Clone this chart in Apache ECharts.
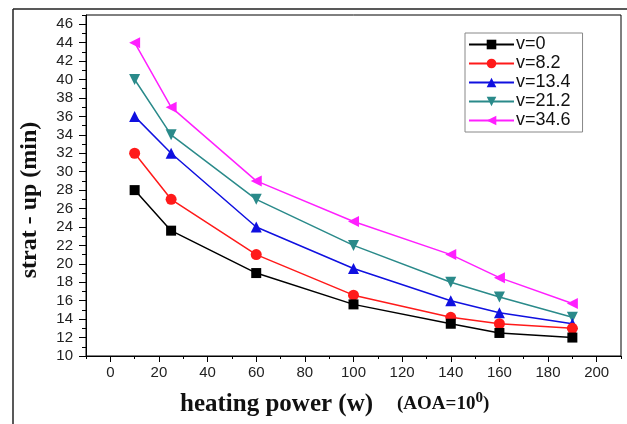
<!DOCTYPE html>
<html>
<head>
<meta charset="utf-8">
<script src="https://cdn.jsdelivr.net/npm/echarts@6/dist/echarts.min.js"></script>
<style>
html,body{margin:0;padding:0;background:#fff;}
#chart{width:627px;height:424px;}
</style>
</head>
<body>
<div id="chart"></div>
<script>
// Data
var power = [10, 25, 60, 100, 140, 160, 190];
var seriesNames = ['v=0', 'v=8.2', 'v=13.4', 'v=21.2', 'v=34.6'];
var v0    = [28, 23.6, 19, 15.6, 13.5, 12.5, 12];
var v8_2  = [32, 27, 21, 16.6, 14.2, 13.5, 13];
var v13_4 = [36, 32, 24, 19.5, 16, 14.7, 13.5];
var v21_2 = [40, 34, 27, 22, 18, 16.4, 14.2];
var v34_6 = [44, 37, 29, 24.6, 21, 18.5, 15.7];
var xTickLabels = [0, 20, 40, 60, 80, 100, 120, 140, 160, 180, 200];
var xMinorTicks = [-10, 10, 30, 50, 70, 90, 110, 130, 150, 170, 190, 210];
var yTickLabels = [10, 12, 14, 16, 18, 20, 22, 24, 26, 28, 30, 32, 34, 36, 38, 40, 42, 44, 46];
var yMinorTicks = [11, 13, 15, 17, 19, 21, 23, 25, 27, 29, 31, 33, 35, 37, 39, 41, 43, 45, 47];

var allValues = [v0, v8_2, v13_4, v21_2, v34_6];
var colors = ['#000000', '#ff1a1a', '#1010e0', '#2a8a8a', '#ff20ff'];
var symbols = ['rect', 'circle', 'triangle', 'triangle', 'triangle'];
var rotates = [0, 0, 0, 180, 90];
var sizes = [10, 11, 11, 11, 11];

function pairs(vals) {
  return power.map(function (p, i) { return [p, vals[i]]; });
}

var G = { left: 86, right: 6, top: 15, bottom: 68 };

var chart = echarts.init(document.getElementById('chart'));
var labelFont = { fontFamily: 'Liberation Sans, Arial, sans-serif', fontSize: 15, color: '#222' };

var option = {
  animation: false,
  backgroundColor: '#ffffff',
  grid: [
    { left: G.left, right: G.right, top: G.top, bottom: G.bottom, show: true, borderColor: '#000', borderWidth: 1, backgroundColor: 'transparent' },
    { left: G.left, right: G.right, top: G.top, bottom: G.bottom, show: false }
  ],
  legend: {
    orient: 'vertical',
    left: 465, top: 33,
    padding: [2, 12, 2, 3],
    itemWidth: 45, itemHeight: 12,
    itemGap: 0,
    borderColor: '#888', borderWidth: 1,
    textStyle: { fontFamily: 'Liberation Sans, Arial, sans-serif', fontSize: 18, lineHeight: 19, color: '#111', padding: [0, 0, 0, -3] },
    data: seriesNames
  },
  xAxis: [{
    gridIndex: 0, type: 'value', min: -10, max: 210, position: 'bottom',
    axisLine: { show: true, onZero: false, lineStyle: { color: '#000', width: 1 } },
    axisTick: { show: true, length: 6, customValues: xTickLabels, lineStyle: { color: '#000' } },
    axisLabel: Object.assign({ margin: 9, customValues: xTickLabels }, labelFont),
    splitLine: { show: false }
  }, {
    gridIndex: 1, type: 'value', min: -10, max: 210, position: 'bottom',
    axisLine: { show: false, onZero: false },
    axisTick: { show: true, length: 3, customValues: xMinorTicks, lineStyle: { color: '#000' } },
    axisLabel: { show: false },
    splitLine: { show: false }
  }],
  yAxis: [{
    gridIndex: 0, type: 'value', min: 10, max: 47, position: 'left',
    axisLine: { show: true, onZero: false, lineStyle: { color: '#000', width: 1 } },
    axisTick: { show: true, length: 7, customValues: yTickLabels, lineStyle: { color: '#000' } },
    axisLabel: Object.assign({ margin: 13, customValues: yTickLabels }, labelFont),
    splitLine: { show: false }
  }, {
    gridIndex: 1, type: 'value', min: 10, max: 47, position: 'left',
    axisLine: { show: false, onZero: false },
    axisTick: { show: true, length: 4, customValues: yMinorTicks, lineStyle: { color: '#000' } },
    axisLabel: { show: false },
    splitLine: { show: false }
  }],
  graphic: [
    { type: 'line', shape: { x1: 13, y1: 9, x2: 13, y2: 424 }, style: { stroke: '#222', lineWidth: 1.5 } },
    { type: 'line', shape: { x1: 13, y1: 9, x2: 627, y2: 9 }, style: { stroke: '#222', lineWidth: 1.5 } },
    {
      type: 'text', left: 180, top: 391,
      style: {
        text: '{a|heating power (w)}{b|(AOA=10}{c|0}{b|)}',
        rich: {
          a: { fontFamily: 'Liberation Serif, Times New Roman, serif', fontWeight: 'bold', fontSize: 25, fill: '#111', padding: [0, 24, 0, 0] },
          b: { fontFamily: 'Liberation Serif, Times New Roman, serif', fontWeight: 'bold', fontSize: 19, fill: '#111' },
          c: { fontFamily: 'Liberation Serif, Times New Roman, serif', fontWeight: 'bold', fontSize: 15, fill: '#111', padding: [0, 0, 12, 0] }
        }
      }
    },
    {
      type: 'text', x: 30, y: 200, rotation: Math.PI / 2,
      style: {
        text: 'strat - up (min)',
        fontFamily: 'Liberation Serif, Times New Roman, serif', fontWeight: 'bold', fontSize: 24, fill: '#111',
        align: 'center', verticalAlign: 'middle'
      }
    }
  ],
  series: seriesNames.map(function (name, i) {
    return {
      name: name,
      type: 'line',
      xAxisIndex: 0, yAxisIndex: 0,
      data: pairs(allValues[i]),
      symbol: symbols[i],
      symbolRotate: rotates[i],
      symbolSize: sizes[i],
      showAllSymbol: true,
      itemStyle: { color: colors[i] },
      lineStyle: { color: colors[i], width: 1.5 },
      z: 10 - i
    };
  })
};
chart.setOption(option);
</script>
</body>
</html>
